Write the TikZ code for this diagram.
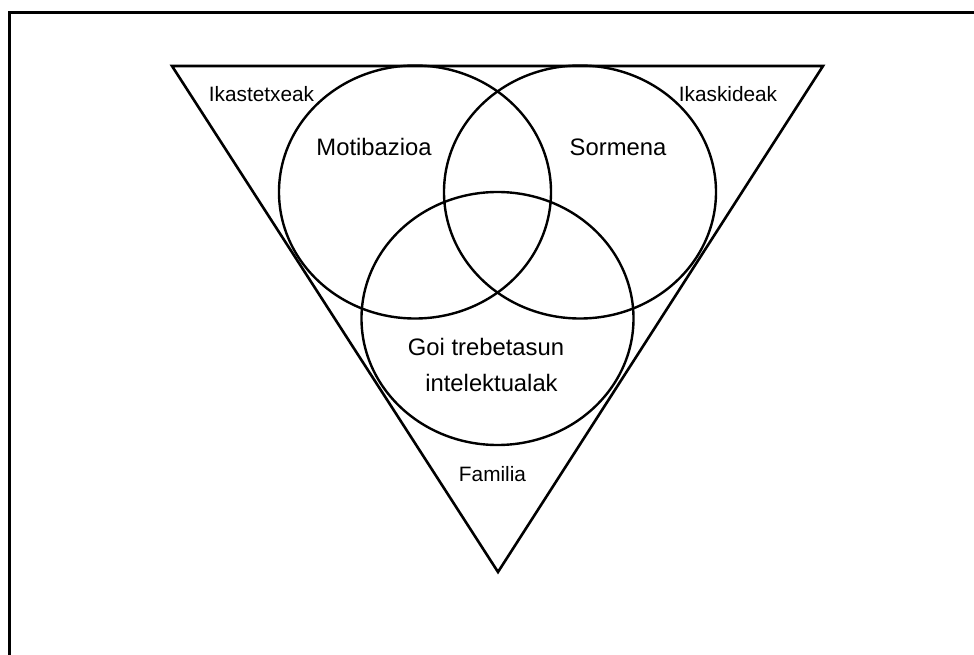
\documentclass[tikz,border=0pt]{standalone}
\usepackage{fontspec}
\setmainfont{Liberation Sans}
\begin{document}
\begin{tikzpicture}[x=1bp,y=-1bp,
  line/.style={draw=black,line width=2.6bp,line join=miter},
  ring/.style={draw=black,line width=2.4bp},
  small/.style={font=\fontsize{20.8bp}{25bp}\selectfont,anchor=base,inner sep=0pt},
  big/.style={font=\fontsize{23.8bp}{28bp}\selectfont,anchor=base,inner sep=0pt}]
\useasboundingbox (0,0) rectangle (974,655);
\clip (0,0) rectangle (974,655);
% frame (cut by the page edges)
\draw[line width=3bp] (9.2,12.2) rectangle (1000,700);
% triangle
\coordinate (tl) at (172,66);
\coordinate (tr) at (823,66);
\coordinate (bt) at (498,572);
\draw[line] (tl) -- (tr) -- (bt) -- cycle;
% circles
\draw[ring] (415,192) ellipse [x radius=136bp, y radius=126.5bp];
\draw[ring] (580,192) ellipse [x radius=136bp, y radius=126.5bp];
\draw[ring] (497.5,318.5) ellipse [x radius=136bp, y radius=126.5bp];
% labels
\node[small] (ikastetxeak) at (261.5,102) {Ikastetxeak};
\node[small] (ikaskideak) at (728,102) {Ikaskideak};
\node[big] (motibazioa) at (374,156) {Motibazioa};
\node[big] (sormena) at (618,156) {Sormena};
\node[big] (goi) at (486,355) {Goi trebetasun};
\node[big] (intel) at (491.5,391.7) {intelektualak};
\node[small] (familia) at (492.5,481.7) {Familia};
\end{tikzpicture}
\end{document}
